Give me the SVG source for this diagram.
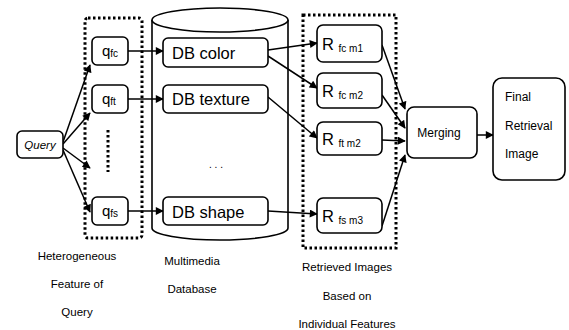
<svg xmlns="http://www.w3.org/2000/svg" width="569" height="330" viewBox="0 0 569 330">
<defs>
<marker id="ah" viewBox="0 0 10 10" refX="9" refY="5" markerWidth="9" markerHeight="8" markerUnits="userSpaceOnUse" orient="auto">
<path d="M0,0 L10,5 L0,10 z" fill="#000"/>
</marker>
<style>
.box{fill:#fff;stroke:#000;stroke-width:1.6}
.dot{fill:none;stroke:#000;stroke-width:3;stroke-dasharray:2.5 2.5}
.ln{fill:none;stroke:#000;stroke-width:1.5;marker-end:url(#ah)}
text{font-family:"Liberation Sans",Arial,sans-serif;fill:#000}
.big{font-size:16.5px}
.q{font-size:15px}
.lbl{font-size:11.5px;text-anchor:middle}
.sub{font-size:10px}
.mid{font-size:12px}
</style>
</defs>
<rect width="569" height="330" fill="#fff"/>
<g id="group-query-features"><rect class="dot" x="85" y="18" width="57" height="220" rx="3"/></g>
<g id="database">
<path class="box" d="M152,20 L152,228 A68,12 0 0 0 288,228 L288,20" />
<ellipse class="box" cx="220" cy="20" rx="68" ry="12"/>
<text x="216" y="168" font-size="10" text-anchor="middle">. . .</text>
</g>
<g id="group-retrieved"><rect class="dot" x="303" y="15" width="93" height="233"/></g>
<g id="connectors">
<line class="ln" x1="63" y1="142" x2="90" y2="65"/>
<line class="ln" x1="63" y1="144" x2="90" y2="113"/>
<line class="ln" x1="63" y1="148" x2="90" y2="168"/>
<line class="ln" x1="63" y1="150" x2="90" y2="212"/>
<line class="ln" x1="128" y1="51" x2="163" y2="51"/>
<line class="ln" x1="128" y1="99" x2="163" y2="99"/>
<line class="ln" x1="128" y1="211" x2="163" y2="211"/>
<line class="ln" x1="268" y1="50" x2="317" y2="43"/>
<line class="ln" x1="268" y1="56" x2="317" y2="88"/>
<line class="ln" x1="268" y1="97" x2="317" y2="138"/>
<line class="ln" x1="268" y1="211" x2="317" y2="214"/>
<line class="ln" x1="382" y1="45" x2="405" y2="109"/>
<line class="ln" x1="382" y1="95" x2="405" y2="128"/>
<line class="ln" x1="382" y1="140" x2="405" y2="141"/>
<line class="ln" x1="382" y1="226" x2="405" y2="155"/>
<line class="ln" x1="477" y1="135" x2="493" y2="135"/>
</g>
<g id="query"><rect class="box" x="17" y="131" width="46" height="27" rx="5"/><text x="40" y="149" font-size="11.5" text-anchor="middle" font-style="italic">Query</text></g>
<g id="q-fc"><rect class="box" x="92" y="37" width="36" height="28" rx="5"/><text x="102" y="56" class="q">q<tspan class="sub" dy="0.5">fc</tspan></text></g>
<g id="q-ft"><rect class="box" x="92" y="85" width="36" height="28" rx="5"/><text x="102" y="104" class="q">q<tspan class="sub" dy="0.5">ft</tspan></text></g>
<g id="q-dots"><line x1="108" y1="130" x2="108" y2="172" stroke="#000" stroke-width="3" stroke-dasharray="2.5 2.5"/></g>
<g id="q-fs"><rect class="box" x="92" y="197" width="36" height="28" rx="5"/><text x="102" y="216" class="q">q<tspan class="sub" dy="0.5">fs</tspan></text></g>
<g id="db-color"><rect class="box" x="163" y="38" width="105" height="29" rx="5"/><text x="172" y="59" class="big">DB color</text></g>
<g id="db-texture"><rect class="box" x="163" y="85" width="105" height="28" rx="5"/><text x="172" y="105" class="big">DB texture</text></g>
<g id="db-shape"><rect class="box" x="163" y="197" width="105" height="28" rx="5"/><text x="172" y="218" class="big">DB shape</text></g>
<g id="r-fcm1"><rect class="box" x="317" y="25" width="65" height="37" rx="6"/><text x="322" y="50" class="big">R <tspan class="sub" dy="2">fc m1</tspan></text></g>
<g id="r-fcm2"><rect class="box" x="317" y="73" width="65" height="35" rx="6"/><text x="322" y="97" class="big">R <tspan class="sub" dy="2">fc m2</tspan></text></g>
<g id="r-ftm2"><rect class="box" x="317" y="122" width="65" height="33" rx="6"/><text x="322" y="145" class="big">R <tspan class="sub" dy="2">ft m2</tspan></text></g>
<g id="r-fsm3"><rect class="box" x="317" y="198" width="65" height="35" rx="6"/><text x="322" y="222" class="big">R <tspan class="sub" dy="2">fs m3</tspan></text></g>
<g id="merging"><rect class="box" x="407" y="107" width="70" height="51" rx="7"/><text x="439" y="137" class="mid" text-anchor="middle">Merging</text></g>
<g id="final"><rect class="box" x="493" y="78" width="72" height="102" rx="9"/><text x="505" y="101" class="mid">Final</text><text x="505" y="130" class="mid">Retrieval</text><text x="505" y="158" class="mid">Image</text></g>
<g id="labels">
<text x="77" y="260" class="lbl">Heterogeneous</text>
<text x="77" y="288" class="lbl">Feature of</text>
<text x="77" y="316" class="lbl">Query</text>
<text x="192" y="265" class="lbl">Multimedia</text>
<text x="192" y="293" class="lbl">Database</text>
<text x="347" y="271" class="lbl">Retrieved Images</text>
<text x="347" y="300" class="lbl">Based on</text>
<text x="347" y="328" class="lbl">Individual Features</text>
</g>
</svg>
